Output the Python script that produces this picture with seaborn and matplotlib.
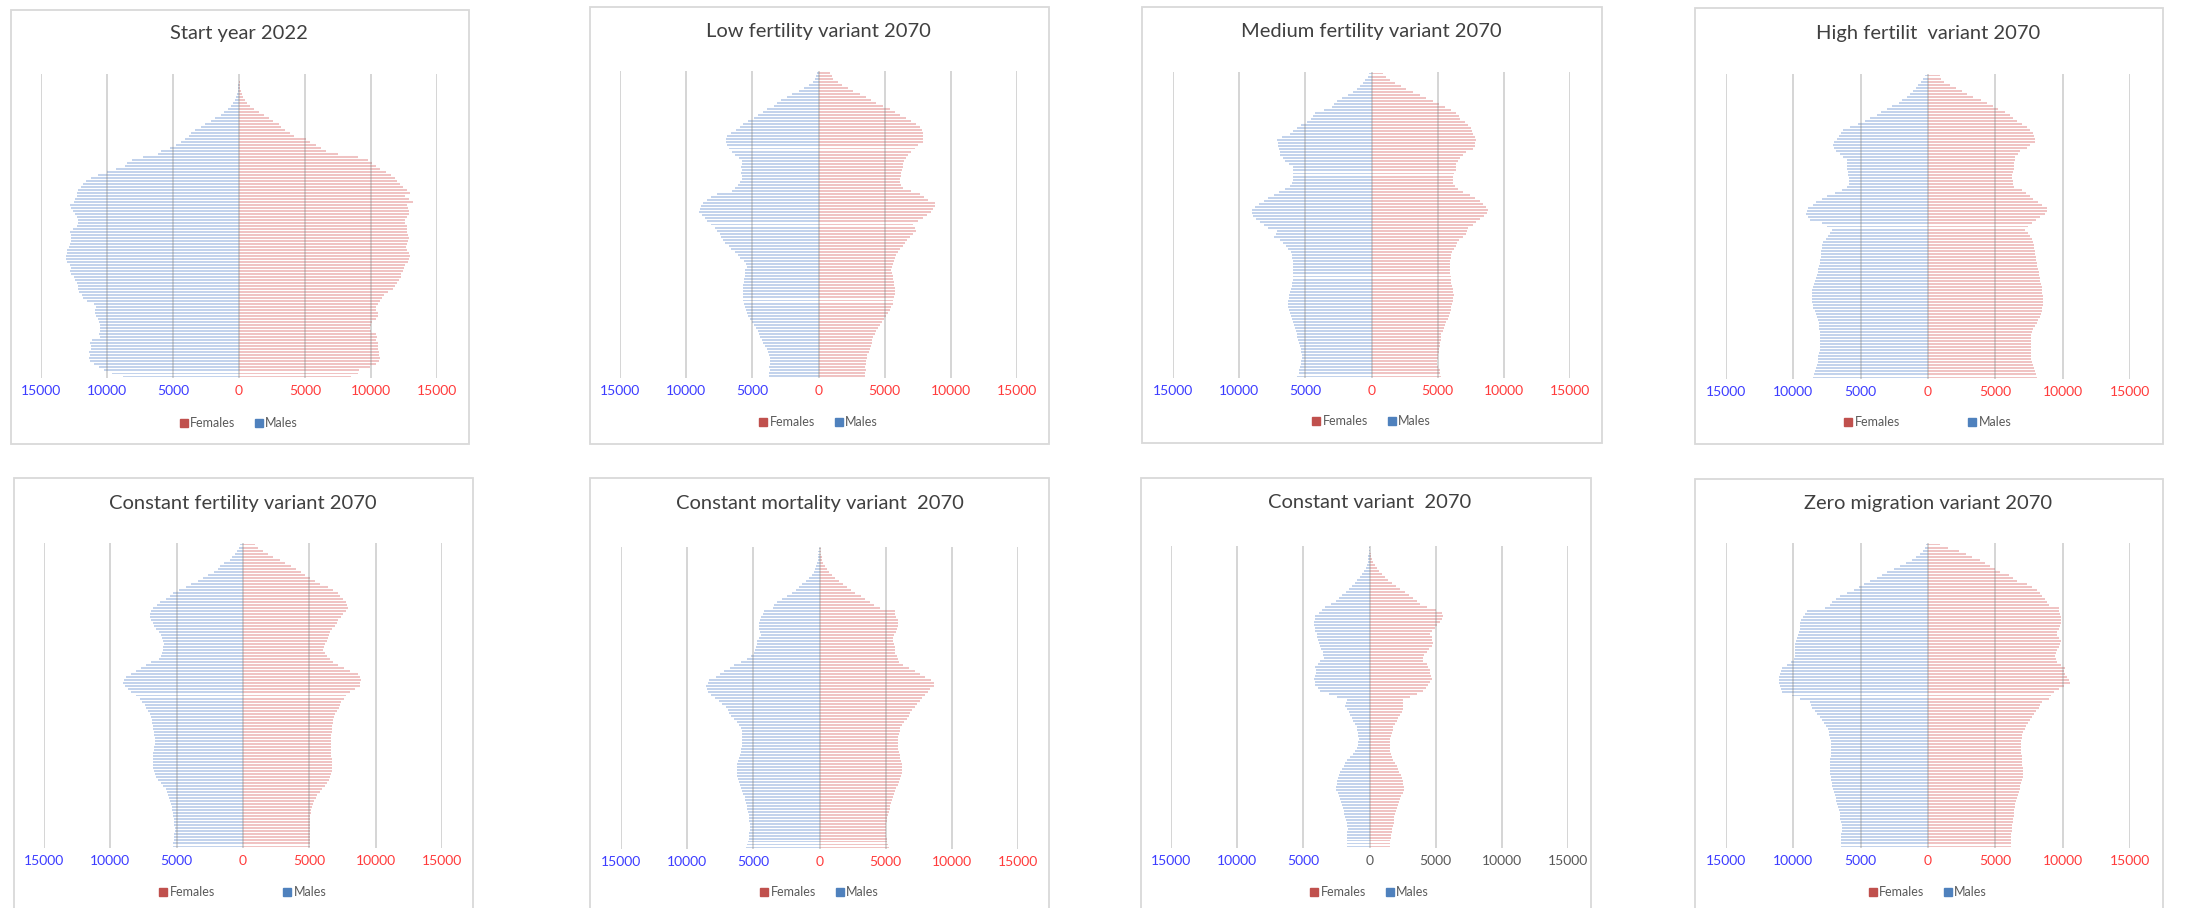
import numpy as np
import matplotlib
matplotlib.use("Agg")
import matplotlib.pyplot as plt
from matplotlib.patches import Rectangle
from matplotlib.lines import Line2D
import seaborn as sns

ages = list(range(0, 101))

# ---- Start year 2022 ----
start_m = [8800, 9600, 10200, 10600, 11000, 11300, 11400, 11300, 11350, 11200,
           11200, 11300, 11100, 10500, 10600, 10500, 10500, 10550, 10600, 10700,
           10850, 10900, 10900, 10800, 11000, 11500, 11800, 11900, 12100, 12200,
           12200, 12300, 12400, 12500, 12700, 12800, 12750, 12800, 13000, 13100,
           13100, 13050, 13000, 12900, 12800, 12750, 12700, 12750, 12800, 12600,
           12250, 12200, 12200, 12300, 12400, 12600, 12700, 12800, 12500, 12400,
           12250, 12300, 12200, 12000, 11800, 11600, 11200, 10700, 10000, 9300,
           8600, 8500, 8100, 7300, 6100, 5900, 5200, 4800, 4400, 4100,
           3800, 3600, 3300, 2900, 2600, 2100, 1800, 1400, 1100, 850,
           600, 450, 300, 220, 150, 100, 70, 40, 30, 20, 10]
start_f = [8500, 9000, 9100, 9900, 10400, 10600, 10700, 10600, 10600, 10500,
           10500, 10500, 10400, 10450, 10400, 10000, 9900, 10000, 10100, 10400,
           10500, 10500, 10400, 10350, 10500, 10650, 10800, 11000, 11300, 11700,
           11800, 12000, 12100, 12250, 12300, 12400, 12500, 12600, 12800, 12900,
           12950, 12900, 12700, 12650, 12700, 12800, 12850, 12800, 12750, 12700,
           12700, 12600, 12550, 12700, 12850, 12900, 12800, 12700, 13200, 12900,
           12600, 12950, 12700, 12400, 12200, 12000, 11800, 11500, 11100, 10700,
           10400, 10100, 9800, 9000, 7500, 6600, 6200, 5800, 5400, 5100,
           4200, 3900, 3500, 3200, 3000, 2600, 2300, 1900, 1500, 1150,
           830, 600, 420, 280, 200, 130, 90, 60, 40, 20, 10]

# ---- Low fertility variant 2070 ----
low_m = [3740, 3740, 3700, 3740, 3700, 3700, 3680, 3750, 3850, 3920,
         4050, 4170, 4300, 4450, 4500, 4600, 4750, 4900, 5000, 5150,
         5300, 5430, 5500, 5580, 5650, 5680, 5700, 5730, 5730, 5730,
         5700, 5650, 5600, 5580, 5550, 5550, 5430, 5500, 5650, 5900,
         6100, 6300, 6600, 6800, 7100, 7200, 7350, 7450, 7650, 7850,
         8100, 8400, 8600, 8800, 9000, 8950, 8850, 8700, 8450, 8100,
         7700, 6500, 6300, 6100, 5900, 5800, 5800, 5850, 5800, 5850,
         5800, 5750, 6000, 6300, 6500, 6800, 6950, 7000, 7000, 6930,
         6600, 6250, 5900, 5700, 5300, 4900, 4600, 4200, 3900, 3400,
         3100, 2800, 2400, 2000, 1500, 1100, 700, 450, 280, 200, 150]
low_f = [3540, 3540, 3560, 3540, 3560, 3600, 3650, 3700, 3800, 3870,
         3950, 4020, 4070, 4150, 4250, 4350, 4500, 4650, 4800, 4950,
         5100, 5250, 5400, 5500, 5600, 5630, 5700, 5750, 5750, 5750,
         5700, 5680, 5630, 5600, 5550, 5500, 5550, 5630, 5700, 5800,
         5880, 6000, 6150, 6350, 6550, 6700, 6900, 7140, 7390, 7300,
         7140, 7500, 7890, 8200, 8500, 8640, 8770, 8770, 8270, 8000,
         7640, 7010, 6380, 6250, 6130, 6150, 6200, 6260, 6300, 6380,
         6420, 6460, 6600, 6760, 7000, 7260, 7500, 7890, 7900, 7890,
         7890, 7800, 7640, 7350, 7010, 6600, 6130, 5800, 5380, 4900,
         4370, 4000, 3620, 3100, 2610, 2200, 1810, 1500, 1110, 1000, 850]

# ---- Medium fertility variant 2070 ----
med_m = [5600, 5500, 5450, 5400, 5330, 5300, 5280, 5280, 5300, 5350,
         5400, 5450, 5550, 5600, 5650, 5700, 5780, 5850, 5900, 6000,
         6100, 6160, 6220, 6280, 6280, 6280, 6250, 6210, 6150, 6080,
         6030, 5980, 5950, 5950, 5950, 5930, 5900, 5920, 5950, 5980,
         6030, 6100, 6300, 6460, 6700, 6910, 7360, 7250, 7160, 7840,
         8150, 8420, 8700, 8920, 9000, 9050, 8800, 8470, 8100, 7790,
         7400, 6960, 6500, 6160, 6000, 5900, 5920, 5950, 5950, 5950,
         6200, 6530, 6700, 6910, 6950, 7000, 7030, 7080, 7110, 6800,
         6160, 5900, 5650, 5300, 4900, 4600, 4400, 4270, 3600, 3020,
         2800, 2590, 2200, 1760, 1400, 1100, 880, 650, 500, 300, 180]
med_f = [5280, 5200, 5150, 5050, 4970, 4980, 5000, 5030, 5080, 5120,
         5150, 5180, 5220, 5260, 5280, 5380, 5480, 5550, 5650, 5750,
         5850, 5950, 6000, 6030, 6100, 6160, 6190, 6210, 6190, 6160,
         6100, 6030, 6000, 5970, 5950, 5920, 5900, 5920, 5950, 5990,
         6030, 6100, 6200, 6350, 6450, 6610, 6900, 7160, 7250, 7290,
         7660, 7900, 8170, 8500, 8700, 8790, 8670, 8400, 8170, 7800,
         7460, 6900, 6530, 6300, 6160, 6160, 6160, 6250, 6410, 6410,
         6410, 6500, 6660, 6900, 7160, 7660, 7800, 7850, 7910, 7800,
         7660, 7600, 7540, 7300, 7040, 6700, 6600, 6410, 6000, 5530,
         5100, 4650, 4150, 3640, 3150, 2640, 2200, 1760, 1400, 1130, 880]

# ---- High fertility variant 2070 ----
high_m = [8560, 8480, 8390, 8330, 8270, 8200, 8160, 8140, 8100, 8050,
          8020, 8020, 8020, 8020, 8030, 8050, 8070, 8100, 8120, 8140,
          8220, 8320, 8400, 8510, 8560, 8620, 8640, 8640, 8640, 8580,
          8510, 8450, 8390, 8330, 8270, 8200, 8140, 8080, 8020, 8000,
          7970, 7950, 7930, 7900, 7850, 7770, 7600, 7400, 7280, 7150,
          7500, 7900, 8760, 8900, 9060, 9000, 8890, 8510, 8300, 7900,
          7500, 6910, 6400, 6040, 5900, 5840, 5880, 5920, 5960, 5990,
          6000, 6020, 6040, 6300, 6530, 6830, 6950, 7030, 6950, 6780,
          6600, 6450, 6290, 5800, 5170, 4700, 4310, 3810, 3500, 3070,
          2700, 2130, 1900, 1580, 1300, 1090, 900, 720, 500, 400, 220]
high_f = [8120, 8000, 7950, 7850, 7770, 7700, 7620, 7620, 7620, 7620,
          7620, 7620, 7620, 7620, 7650, 7700, 7800, 7950, 8070, 8200,
          8320, 8380, 8440, 8480, 8510, 8510, 8510, 8510, 8480, 8440,
          8440, 8380, 8320, 8300, 8270, 8230, 8190, 8120, 8070, 8040,
          8020, 7980, 7950, 7900, 7850, 7820, 7700, 7570, 7400, 7200,
          7450, 7700, 8000, 8320, 8690, 8800, 8860, 8500, 8190, 7800,
          7570, 7250, 6960, 6390, 6320, 6290, 6210, 6250, 6340, 6360,
          6390, 6420, 6440, 6460, 6700, 6830, 7330, 7600, 7950, 7950,
          7900, 7820, 7600, 7330, 7000, 6580, 6300, 6090, 5700, 5220,
          4800, 4360, 3900, 3370, 2900, 2500, 2100, 1630, 1200, 1000, 890]

# ---- Constant fertility variant 2070 ----
cfert_m = [5280, 5260, 5230, 5200, 5180, 5150, 5150, 5180, 5200, 5220,
           5250, 5300, 5330, 5370, 5400, 5500, 5600, 5650, 5750, 5830,
           6000, 6210, 6400, 6530, 6620, 6710, 6750, 6780, 6780, 6780,
           6780, 6760, 6730, 6700, 6660, 6660, 6660, 6680, 6710, 6760,
           6800, 6830, 6870, 6910, 7000, 7160, 7300, 7410, 7600, 7790,
           8100, 8470, 8700, 8920, 9050, 8950, 8840, 8420, 8100, 7660,
           7300, 6910, 6360, 6160, 6100, 6030, 6000, 5960, 6000, 6080,
           6200, 6330, 6580, 6700, 6800, 6910, 7000, 7040, 6950, 6780,
           6500, 6280, 5780, 5500, 5280, 4800, 4270, 3900, 3390, 3000,
           2640, 2200, 1900, 1760, 1400, 1010, 800, 630, 450, 300, 200]
cfert_f = [5030, 5030, 5030, 5030, 5030, 5030, 5030, 5030, 5030, 5050,
           5080, 5100, 5150, 5200, 5280, 5350, 5480, 5600, 5780, 5950,
           6160, 6300, 6480, 6580, 6660, 6700, 6730, 6730, 6730, 6700,
           6660, 6640, 6610, 6610, 6610, 6610, 6620, 6660, 6700, 6740,
           6740, 6760, 6780, 6850, 6910, 7050, 7240, 7330, 7410, 7600,
           7790, 8100, 8420, 8790, 8850, 8920, 8800, 8670, 8040, 7600,
           7160, 6800, 6530, 6300, 6160, 6030, 6100, 6160, 6300, 6410,
           6480, 6530, 6700, 6910, 7050, 7160, 7350, 7540, 7750, 7910,
           7850, 7790, 7540, 7300, 7160, 6800, 6410, 5780, 5400, 5030,
           4700, 4400, 4000, 3640, 3200, 2760, 2260, 1900, 1510, 1100, 880]

# ---- Constant mortality variant 2070 ----
cmort_m = [5580, 5500, 5420, 5350, 5330, 5300, 5280, 5250, 5260, 5300,
           5330, 5360, 5400, 5450, 5500, 5550, 5600, 5650, 5750, 5830,
           5920, 6010, 6080, 6160, 6200, 6240, 6260, 6250, 6210, 6150,
           6080, 6030, 5950, 5900, 5850, 5830, 5830, 5830, 5850, 5880,
           5950, 6080, 6250, 6460, 6650, 6830, 6950, 7090, 7350, 7590,
           7900, 8220, 8400, 8500, 8540, 8450, 8340, 7840, 7500, 7210,
           6800, 6460, 5900, 5450, 5200, 4950, 4880, 4820, 4760, 4700,
           4600, 4450, 4500, 4570, 4570, 4570, 4500, 4450, 4300, 4200,
           3500, 3440, 3190, 2800, 2440, 2100, 1810, 1550, 1310, 1050,
           800, 600, 430, 320, 230, 180, 130, 110, 90, 80, 70]
cmort_f = [5280, 5200, 5100, 5080, 5050, 5050, 5050, 5050, 5050, 5080,
           5100, 5150, 5230, 5300, 5350, 5400, 5480, 5560, 5600, 5700,
           5800, 5900, 5980, 6060, 6160, 6200, 6230, 6230, 6200, 6160,
           6120, 6060, 6000, 5950, 5930, 5930, 5930, 5950, 6000, 6060,
           6120, 6230, 6400, 6610, 6750, 6860, 7000, 7190, 7350, 7560,
           7780, 7990, 8200, 8370, 8620, 8690, 8400, 7990, 7600, 7240,
           6730, 6300, 5980, 5900, 5850, 5730, 5730, 5730, 5650, 5550,
           5550, 5600, 5750, 5850, 5930, 5930, 5900, 5800, 5730, 5700,
           4600, 4100, 3800, 3470, 3100, 2710, 2400, 2090, 1800, 1460,
           1200, 950, 750, 580, 420, 280, 200, 160, 130, 100, 80]

# ---- Constant variant 2070 ----
const_m = [1710, 1710, 1710, 1700, 1690, 1680, 1660, 1680, 1710, 1780,
           1830, 1900, 1960, 2020, 2090, 2170, 2260, 2330, 2410, 2510,
           2510, 2480, 2460, 2400, 2340, 2220, 2090, 1950, 1830, 1700,
           1450, 1210, 1100, 950, 900, 850, 830, 850, 880, 920,
           950, 1100, 1210, 1330, 1450, 1580, 1700, 1830, 1750, 1710,
           2460, 3090, 3720, 3900, 4100, 4150, 4220, 4100, 4050, 4020,
           4100, 3900, 3720, 3470, 3500, 3520, 3650, 3770, 3850, 3920,
           3970, 4000, 4100, 4150, 4220, 4220, 4150, 4100, 3840, 3600,
           3340, 2900, 2510, 2300, 2090, 1800, 1580, 1350, 1130, 950,
           750, 600, 400, 300, 200, 150, 100, 80, 60, 50, 40]
const_f = [1560, 1560, 1560, 1600, 1640, 1680, 1720, 1810, 1830, 1860,
           1880, 1930, 2000, 2100, 2190, 2250, 2310, 2400, 2510, 2610,
           2610, 2560, 2500, 2440, 2350, 2260, 2160, 2060, 1930, 1810,
           1700, 1610, 1580, 1560, 1560, 1560, 1560, 1600, 1680, 1740,
           1810, 1950, 2080, 2190, 2320, 2440, 2560, 2560, 2510, 2510,
           3070, 3600, 4070, 4250, 4450, 4600, 4750, 4620, 4600, 4570,
           4450, 4320, 4070, 4020, 4100, 4320, 4500, 4700, 4820, 4750,
           4700, 4570, 4700, 4950, 5100, 5330, 5450, 5530, 5450, 5030,
           4320, 3820, 3600, 3320, 3000, 2690, 2300, 2010, 1700, 1430,
           1180, 930, 750, 550, 420, 300, 200, 130, 80, 50, 30]

# ---- Zero migration variant 2070 ----
zero_m = [6440, 6440, 6440, 6440, 6440, 6420, 6400, 6390, 6450, 6510,
          6530, 6560, 6620, 6700, 6750, 6810, 6860, 6930, 6980, 7050,
          7100, 7150, 7180, 7220, 7250, 7280, 7300, 7300, 7280, 7250,
          7220, 7200, 7200, 7200, 7200, 7230, 7250, 7320, 7380, 7450,
          7550, 7700, 7870, 8050, 8240, 8420, 8610, 8700, 8790, 9530,
          10100, 10840, 10950, 11010, 11050, 11090, 11050, 10960, 10900, 10840,
          10470, 10200, 9980, 9900, 9880, 9850, 9870, 9900, 9800, 9730,
          9650, 9550, 9480, 9480, 9480, 9400, 9280, 9150, 8990, 7620,
          7300, 7130, 6800, 6510, 6000, 5520, 5100, 4780, 4300, 3790,
          3400, 3040, 2550, 2050, 1600, 1190, 900, 570, 400, 200, 120]
zero_f = [6160, 6160, 6160, 6170, 6190, 6210, 6240, 6270, 6310, 6330,
          6350, 6360, 6400, 6450, 6490, 6550, 6610, 6670, 6730, 6800,
          6860, 6920, 6980, 7020, 7050, 7050, 7030, 7010, 6990, 6980,
          6960, 6930, 6920, 6910, 6910, 6930, 6960, 6990, 7050, 7200,
          7300, 7420, 7550, 7700, 7850, 8000, 8220, 8350, 8470, 8960,
          9100, 9330, 9700, 10070, 10520, 10450, 10320, 10200, 10070, 10200,
          9900, 9580, 9500, 9460, 9530, 9600, 9700, 9800, 9880, 9750,
          9580, 9600, 9700, 9800, 9880, 9880, 9850, 9830, 9750, 9700,
          8960, 8840, 8700, 8470, 8300, 8090, 7700, 7350, 6610, 6300,
          5990, 5370, 5000, 4630, 4200, 3840, 3270, 2800, 2280, 1500, 920]

titles = ["Start year 2022", "Low fertility variant 2070",
          "Medium fertility variant 2070", "High fertilit  variant 2070",
          "Constant fertility variant 2070", "Constant mortality variant  2070",
          "Constant variant  2070", "Zero migration variant 2070"]
males = [start_m, low_m, med_m, high_m, cfert_m, cmort_m, const_m, zero_m]
females = [start_f, low_f, med_f, high_f, cfert_f, cmort_f, const_f, zero_f]
xticks = [-15000, -10000, -5000, 0, 5000, 10000, 15000]
xtick_labels = ["15000", "10000", "5000", "0", "5000", "10000", "15000"]

# layout in pixels: frame box, gridline span (-15000..15000), bar area top/bottom,
# title y, legend y, legend column gap
layout = [
    dict(box=(11, 10, 469, 444), gx=(41, 437), py=(74, 378), ty=34, ly=423, gap=1.6),
    dict(box=(590, 7, 1049, 444), gx=(620, 1017), py=(71, 378), ty=32, ly=422, gap=1.6),
    dict(box=(1142, 7, 1602, 443), gx=(1173, 1570), py=(72, 378), ty=32, ly=421, gap=1.6),
    dict(box=(1695, 8, 2163, 444), gx=(1726, 2130), py=(74, 379), ty=33, ly=422, gap=5.5),
    dict(box=(14, 478, 473, 940), gx=(44, 442), py=(543, 848), ty=504, ly=892, gap=5.5),
    dict(box=(590, 478, 1049, 940), gx=(621, 1018), py=(547, 849), ty=503, ly=892, gap=1.6),
    dict(box=(1141, 478, 1591, 940), gx=(1171, 1568), py=(546, 848), ty=503, ly=892, gap=1.6),
    dict(box=(1695, 479, 2163, 940), gx=(1726, 2130), py=(543, 848), ty=503, ly=892, gap=1.6),
]

W, H = 2191, 908
sns.set_theme(style="white")
plt.rcParams["font.family"] = ["Lato", "DejaVu Sans"]

fig = plt.figure(figsize=(W / 100, H / 100), dpi=100)
fig.patch.set_facecolor("white")

male_fill = "#c3d3ec"
female_fill = "#f0c3c3"
male_key = "#4f81bd"
female_key = "#c0504d"
left_col = "#3c3cff"
right_col = "#ff3b3b"

for i, lay in enumerate(layout):
    bx0, by0, bx1, by1 = lay["box"]
    fig.patches.append(Rectangle((bx0 / W, 1 - by1 / H), (bx1 - bx0) / W, (by1 - by0) / H,
                                 transform=fig.transFigure, fill=False,
                                 edgecolor="#d9d9d9", lw=1.3, zorder=0))
    gx0, gx1 = lay["gx"]
    py0, py1 = lay["py"]
    ax = fig.add_axes([gx0 / W, 1 - py1 / H, (gx1 - gx0) / W, (py1 - py0) / H])

    sns.barplot(x=-np.array(males[i]), y=ages, orient="h", native_scale=True,
                color=male_fill, saturation=1, width=0.65, errorbar=None,
                linewidth=0, ax=ax)
    sns.barplot(x=np.array(females[i]), y=ages, orient="h", native_scale=True,
                color=female_fill, saturation=1, width=0.65, errorbar=None,
                linewidth=0, ax=ax)

    ax.set_xlim(-15000, 15000)
    ax.set_ylim(-0.5, 100.5)
    ax.set_xlabel("")
    ax.set_ylabel("")
    ax.set_yticks([])
    ax.set_xticks(xticks)
    ax.set_xticklabels(xtick_labels)
    ax.tick_params(axis="x", length=0, pad=5, labelsize=10)
    for t, v in zip(ax.get_xticklabels(), xticks):
        if v < 0:
            t.set_color(left_col)
        elif i == 6:
            t.set_color("#595959")
        else:
            t.set_color(right_col)
    ax.set_axisbelow(False)
    ax.grid(axis="x", color="#808080", alpha=0.35, lw=1.3)
    ax.grid(axis="y", visible=False)
    for s in ax.spines.values():
        s.set_visible(False)
    ax.patch.set_alpha(0)

    cx = (gx0 + gx1) / 2
    fig.text(cx / W, 1 - lay["ty"] / H, titles[i], ha="center", va="center",
             fontsize=14.5, color="#404040")

    handles = [Line2D([], [], ls="", marker="s", markersize=5.5, color=female_key),
               Line2D([], [], ls="", marker="s", markersize=5.5, color=male_key)]
    ly_ax = -(lay["ly"] - py1) / (py1 - py0)
    ax.legend(handles, ["Females", "Males"], loc="center", bbox_to_anchor=(0.5, ly_ax),
              ncol=2, frameon=False, fontsize=9, handlelength=0.6, handletextpad=0.2,
              columnspacing=lay["gap"], labelcolor="#595959")

fig.savefig("out.png", dpi=100, facecolor="white")
